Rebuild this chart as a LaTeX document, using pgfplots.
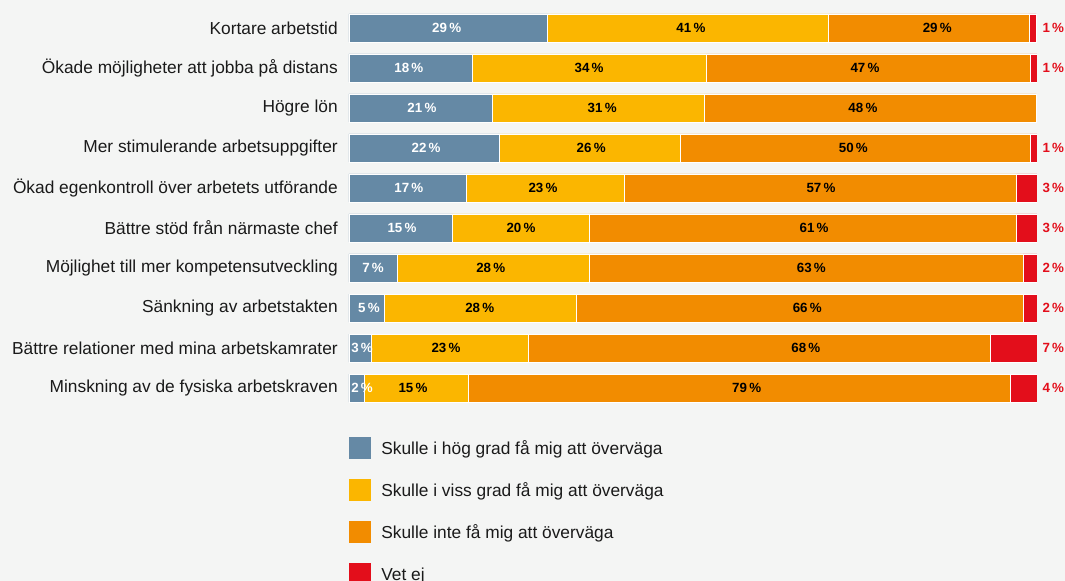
\documentclass[border=0pt]{standalone}
\usepackage{fontspec}
\setmainfont{Liberation Sans}
\usepackage{pgfplots}
\pgfplotsset{compat=1.18}
\usepackage{pgfplotstable}
\definecolor{cblue}{HTML}{6589A5}
\definecolor{cyel}{HTML}{FBB600}
\definecolor{corg}{HTML}{F28C00}
\definecolor{cred}{HTML}{E30E1B}
\definecolor{cbg}{HTML}{F4F5F4}
\definecolor{ctxt}{HTML}{1A1A1A}

\pgfplotstableread{
row hog viss inte vet
0 28.9 40.8 29.2 1.0
1 18.0 33.9 47.1 1.0
2 20.9 30.8 48.2 0.0
3 21.9 26.2 50.9 1.0
4 17.0 23.0 57.0 3.0
5 15.1 19.9 62.0 3.0
6 7.1 27.9 63.0 2.0
7 5.2 27.9 64.9 2.0
8 3.3 22.8 67.1 6.8
9 2.3 15.0 78.8 3.9
}\bardata

% label positions (x centre, row, shown value)
\pgfplotstableread{
x y v
14.2 0 29
8.7 1 18
10.6 2 21
11.2 3 22
8.7 4 17
7.7 5 15
3.5 6 7
2.9 7 5
1.9 8 3
1.9 9 2
}\lblblue
\pgfplotstableread{
x y v
49.7 0 41
34.9 1 34
36.8 2 31
35.2 3 26
28.2 4 23
25.0 5 20
20.6 6 28
19.0 7 28
14.1 8 23
9.3 9 15
85.5 0 29
75.0 1 47
74.7 2 48
73.3 3 50
68.6 4 57
67.6 5 61
67.2 6 63
66.6 7 66
66.4 8 68
57.8 9 79
}\lbldark
\pgfplotstableread{
x y v
100 0 1
100 1 1
100 3 1
100 4 3
100 5 3
100 6 2
100 7 2
100 8 7
100 9 4
}\lblred

\pgfplotsset{
  base/.style={
    scale only axis, width=516pt, height=300pt,
    xmin=0, xmax=100, ymin=-0.5, ymax=9.5, y dir=reverse,
    at={(0,0)}, anchor=south west,
  }
}

\begin{document}
\begin{tikzpicture}
\path[use as bounding box] (-261.75pt,-129.75pt) rectangle (537pt,306pt);
\fill[cbg] (-261.75pt,-129.75pt) rectangle (537pt,306pt);
\begin{axis}[base,
  xbar stacked, bar width=0.7,
  hide x axis,
  axis y line*=left,
  y axis line style={draw=none},
  major tick length=0pt,
  ytick={0,...,9},
  yticklabels={Kortare arbetstid,
    Ökade möjligheter att jobba på distans,
    Högre lön,
    Mer stimulerande arbetsuppgifter,
    Ökad egenkontroll över arbetets utförande,
    Bättre stöd från närmaste chef,
    Möjlighet till mer kompetensutveckling,
    Sänkning av arbetstakten,
    Bättre relationer med mina arbetskamrater,
    Minskning av de fysiska arbetskraven},
  yticklabel style={font=\fontsize{13}{15}\selectfont, text=ctxt, anchor=east, inner sep=0pt, xshift=-8.25pt},
  legend style={at={(0,0)}, anchor=north west, yshift=-21.75pt, draw=none, fill=none,
    font=\fontsize{13}{15}\selectfont, text=ctxt, row sep=14.75pt, inner sep=0pt,
    legend cell align=left},
  legend image code/.code={\fill[#1, draw=none] (0pt,-7.75pt) rectangle (16.5pt,8.75pt);
    \path (21.75pt,0pt);},
]
\addplot[fill=cblue, draw=white, line width=0.6pt] table[x=hog, y=row]{\bardata};
\addlegendentry{Skulle i hög grad få mig att överväga}
\addplot[fill=cyel, draw=white, line width=0.6pt] table[x=viss, y=row]{\bardata};
\addlegendentry{Skulle i viss grad få mig att överväga}
\addplot[fill=corg, draw=white, line width=0.6pt] table[x=inte, y=row]{\bardata};
\addlegendentry{Skulle inte få mig att överväga}
\addplot[fill=cred, draw=white, line width=0.6pt] table[x=vet, y=row]{\bardata};
\addlegendentry{Vet ej}
\end{axis}
\begin{axis}[base, hide axis, clip=false,
  nodes near coords={\pgfmathprintnumber[fixed, precision=0, assume math mode=true]{\pgfplotspointmeta}\,\%},
  point meta=explicit,
  every node near coord/.append style={anchor=center, font=\fontsize{10}{12}\selectfont\bfseries, inner sep=0pt},
]
\addplot[draw=none, mark=none, nodes near coords style={text=white}] table[x=x, y=y, meta=v]{\lblblue};
\addplot[draw=none, mark=none, nodes near coords style={text=black}] table[x=x, y=y, meta=v]{\lbldark};
\addplot[draw=none, mark=none, nodes near coords style={text=cred, anchor=west, xshift=4pt}] table[x=x, y=y, meta=v]{\lblred};
\end{axis}
\end{tikzpicture}
\end{document}
